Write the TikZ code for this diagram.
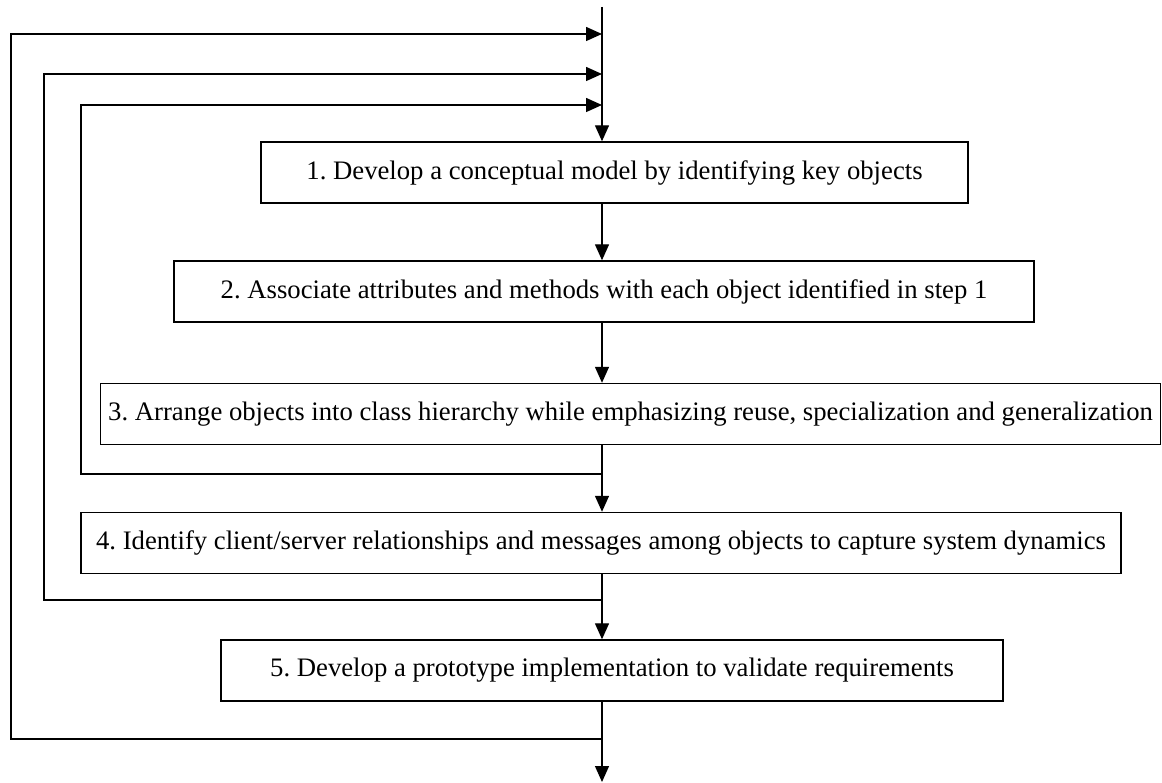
\documentclass[tikz,border=0pt]{standalone}
\usepackage{fontspec}
\setmainfont{Liberation Serif}
\usetikzlibrary{arrows.meta}

\tikzset{
  stepbox/.style={draw, line width=1.4pt, inner xsep=1pt, inner ysep=0pt,
    minimum height=61pt, font=\fontsize{26.7}{30}\selectfont\frenchspacing, align=center},
  tip/.style={-{Triangle[length=16pt,width=14pt]}},
  flow/.style={line width=1.3pt, tip},
  loopline/.style={line width=1.5pt, tip}
}

\begin{document}
\begin{tikzpicture}[x=1pt, y=-1pt]
  \useasboundingbox (0,0) rectangle (1162,783);

  % process steps
  \node[stepbox, minimum width=707pt]  (s1) at (614.5,172.5)
    {1. Develop a conceptual model by identifying key objects};
  \node[stepbox, minimum width=860pt]  (s2) at (604,291.5)
    {2. Associate attributes and methods with each object identified in step 1};
  \node[stepbox, minimum width=1060pt] (s3) at (630.5,414)
    {3. Arrange objects into class hierarchy while emphasizing reuse, specialization and generalization};
  \node[stepbox, minimum width=1040pt] (s4) at (601,543)
    {4. Identify client/server relationships and messages among objects to capture system dynamics};
  \node[stepbox, minimum width=782pt]  (s5) at (612,670.5)
    {5. Develop a prototype implementation to validate requirements};

  % main spine
  \coordinate (top) at (602,7);
  \coordinate (m3)  at (602,34);
  \coordinate (m2)  at (602,74);
  \coordinate (m1)  at (602,105);
  \coordinate (j1)  at (602,474);
  \coordinate (j2)  at (602,600);
  \coordinate (j3)  at (602,739);
  \coordinate (end) at (602,782);

  \draw[flow] (top) -- (top |- s1.north);
  \draw[flow] (s1.south -| top) -- (s2.north -| top);
  \draw[flow] (s2.south -| top) -- (s3.north -| top);
  \draw[flow] (s3.south -| top) -- (s4.north -| top);
  \draw[flow] (s4.south -| top) -- (s5.north -| top);
  \draw[flow] (s5.south -| top) -- (end);

  % feedback loops back to the start
  \draw[loopline] (j1) -- (81,474) |- (m1);
  \draw[loopline] (j2) -- (44,600) |- (m2);
  \draw[loopline] (j3) -- (11,739) |- (m3);
\end{tikzpicture}
\end{document}
